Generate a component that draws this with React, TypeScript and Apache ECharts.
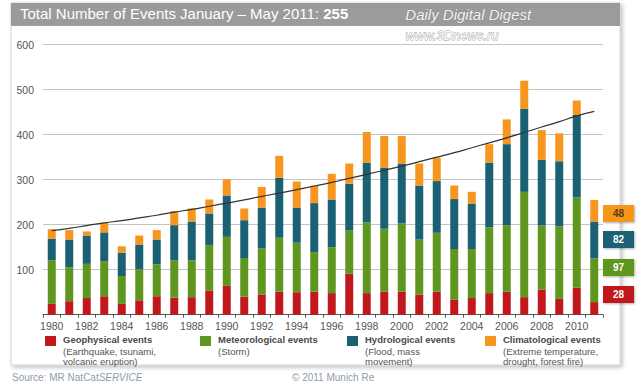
import React, { useEffect, useRef } from "react";
import * as echarts from "echarts";

const years = [
  "1980","1981","1982","1983","1984","1985","1986","1987","1988","1989",
  "1990","1991","1992","1993","1994","1995","1996","1997","1998","1999",
  "2000","2001","2002","2003","2004","2005","2006","2007","2008","2009",
  "2010","2011",
];
const geophysical = [24,30,37,41,24,32,41,38,39,53,64,40,45,51,50,51,48,91,48,51,51,45,51,33,37,48,51,39,56,35,60,28];
const meteorological = [97,75,76,78,62,69,71,83,82,102,109,86,102,120,110,88,102,97,157,140,152,122,131,113,109,146,148,234,142,161,201,97];
const hydrological = [48,62,63,64,52,55,55,78,86,70,92,84,91,133,78,109,106,103,133,136,133,120,115,111,101,144,180,185,146,145,183,82];
const climatological = [21,21,9,21,14,20,21,31,29,31,36,26,46,49,58,39,57,45,68,70,61,49,52,30,26,41,55,62,66,62,32,48];
const trend = [187,192,198,204,209,215,221,228,234,241,248,255,263,270,278,286,294,303,312,321,330,340,350,360,371,382,393,405,417,429,442,452];

const seriesNames = ["Geophysical events", "Meteorological events", "Hydrological events", "Climatological events"];
const seriesNotes = [
  ["(Earthquake, tsunami,", "volcanic eruption)"],
  ["(Storm)"],
  ["(Flood, mass", "movement)"],
  ["(Extreme temperature,", "drought, forest fire)"],
];
const colors = ["#c0181c", "#5f961f", "#1b6174", "#f7961e"];
const labelTextColors = ["#ffffff", "#ffffff", "#ffffff", "#5a3a10"];
const titleText = "Total Number of Events January \u2013 May 2011: ";
const titleTotal = "255";

const FONT = "Liberation Sans, Arial, sans-serif";

export default function App() {
  const ref = useRef<HTMLDivElement>(null);
  useEffect(() => {
    if (!ref.current) return;
    const chart = echarts.init(ref.current, null, { renderer: "svg" });
    const data = [geophysical, meteorological, hydrological, climatological];
    const last = years.length - 1;

    const legendX = [45, 200, 347, 485];
    const graphics: any[] = [
      {
        type: "rect", z: -10, silent: true,
        shape: { x: 11, y: 3, width: 609, height: 362 },
        style: { fill: "#ffffff", stroke: "#d4d4d4", lineWidth: 1, shadowBlur: 4, shadowOffsetX: 2, shadowOffsetY: 2, shadowColor: "rgba(0,0,0,0.25)" },
      },
      {
        type: "rect", z: -9, silent: true,
        shape: { x: 11, y: 3, width: 609, height: 23 },
        style: { fill: "#9b9b9b" },
      },
      {
        type: "text", left: 20, top: 6,
        style: {
          text: "{a|" + titleText + "}{b|" + titleTotal + "}",
          rich: {
            a: { fontSize: 15, fill: "#ffffff", fontFamily: FONT },
            b: { fontSize: 15, fill: "#ffffff", fontWeight: "bold", fontFamily: FONT },
          },
        },
      },
      {
        type: "text", left: 405, top: 7,
        style: { text: "Daily Digital Digest", font: "italic 15px " + FONT, fill: "#f4f4f4", stroke: "#7a7a7a", lineWidth: 0.6 },
      },
      {
        type: "text", left: 405, top: 29,
        style: { text: "www.3Dnews.ru", font: "italic 13px " + FONT, fill: "#ffffff", stroke: "#9a9a9a", lineWidth: 0.8 },
      },
      {
        type: "text", left: 12, top: 372,
        style: {
          text: "{a|Source: MR NatCat}{b|SERVICE}",
          rich: {
            a: { fontSize: 10, fill: "#8c9bab", fontFamily: FONT },
            b: { fontSize: 10, fill: "#8c9bab", fontStyle: "italic", fontFamily: FONT },
          },
        },
      },
      {
        type: "text", left: 292, top: 372,
        style: { text: "\u00a9 2011 Munich Re", font: "10px " + FONT, fill: "#8c9bab" },
      },
    ];

    seriesNames.forEach((name, i) => {
      graphics.push({
        type: "rect", shape: { x: legendX[i], y: 336, width: 11, height: 10 }, style: { fill: colors[i] },
      });
      graphics.push({
        type: "text", left: legendX[i] + 18, top: 334,
        style: { text: name, font: "bold 9.5px " + FONT, fill: "#4a4a4a" },
      });
      graphics.push({
        type: "text", left: legendX[i] + 18, top: 346,
        style: { text: seriesNotes[i].join("\n"), font: "9.5px " + FONT, fill: "#555555", lineHeight: 10.5 },
      });
    });

    const boxY = [286, 259, 231, 205];
    data.forEach((arr, i) => {
      graphics.push({
        type: "rect", shape: { x: 603, y: boxY[i], width: 31, height: 17 },
        style: { fill: colors[i], shadowBlur: 2, shadowOffsetX: 1, shadowOffsetY: 1, shadowColor: "rgba(0,0,0,0.3)" },
      });
      graphics.push({
        type: "text", x: 618.5, y: boxY[i] + 8.5,
        style: { text: String(arr[last]), font: "bold 10px " + FONT, fill: labelTextColors[i], align: "center", verticalAlign: "middle" },
      });
    });

    chart.setOption({
      animation: false,
      grid: { left: 43, right: 37, top: 44.7, bottom: 69.3, containLabel: false },
      xAxis: {
        type: "category",
        data: years,
        boundaryGap: true,
        axisLine: { lineStyle: { color: "#555555", width: 1 } },
        axisTick: { show: true, interval: 0, length: 3, lineStyle: { color: "#555555" } },
        axisLabel: { interval: 1, color: "#555555", fontSize: 10.5, fontFamily: FONT, margin: 6 },
        splitLine: { show: false },
      },
      yAxis: {
        type: "value",
        min: 0,
        max: 600,
        interval: 100,
        axisLine: { show: false },
        axisTick: { show: false },
        axisLabel: { color: "#555555", fontSize: 10.5, fontFamily: FONT, margin: 9, formatter: (v: number) => (v === 0 ? "" : String(v)) },
        splitLine: { lineStyle: { color: "#c4c4c4", width: 1 } },
      },
      series: [
        ...data.map((arr, i) => ({
          name: seriesNames[i],
          type: "bar",
          stack: "total",
          barWidth: 8,
          data: arr,
          itemStyle: { color: colors[i] },
        })),
        {
          name: "Trend",
          type: "line",
          data: trend,
          smooth: true,
          symbol: "none",
          lineStyle: { color: "#333333", width: 1.2 },
          z: 5,
        },
      ],
      graphic: graphics,
    });
    return () => chart.dispose();
  }, []);
  return <div ref={ref} style={{ width: 640, height: 384, position: "absolute", left: 0, top: 0 }} />;
}
